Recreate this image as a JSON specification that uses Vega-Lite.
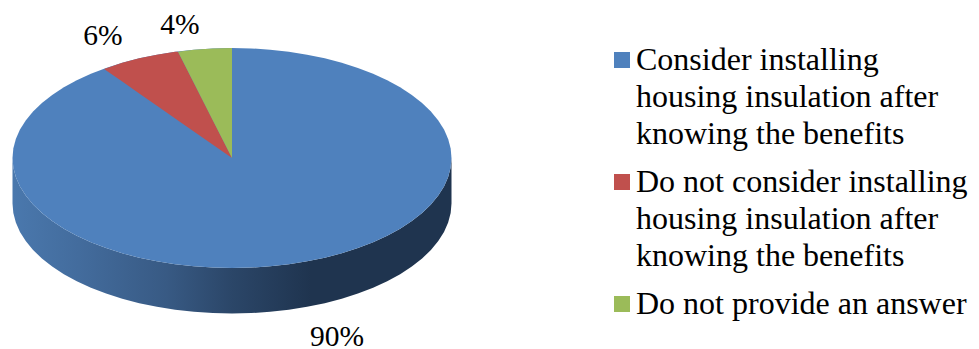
{
  "$schema": "https://vega.github.io/schema/vega-lite/v6.json",
  "width": 979,
  "height": 349,
  "autosize": "none",
  "padding": 0,
  "background": "white",
  "config": {"view": {"stroke": null}},
  "datasets": {
    "rim": [
      {"x": -1, "top": 0, "bottom": 0, "side": -0.4136},
      {"x": -0.9962, "top": 0.0872, "bottom": -0.0872, "side": -0.5008},
      {"x": -0.9848, "top": 0.1736, "bottom": -0.1736, "side": -0.5872},
      {"x": -0.9659, "top": 0.2588, "bottom": -0.2588, "side": -0.6724},
      {"x": -0.9397, "top": 0.342, "bottom": -0.342, "side": -0.7556},
      {"x": -0.9063, "top": 0.4226, "bottom": -0.4226, "side": -0.8362},
      {"x": -0.866, "top": 0.5, "bottom": -0.5, "side": -0.9136},
      {"x": -0.8192, "top": 0.5736, "bottom": -0.5736, "side": -0.9872},
      {"x": -0.766, "top": 0.6428, "bottom": -0.6428, "side": -1.0564},
      {"x": -0.7071, "top": 0.7071, "bottom": -0.7071, "side": -1.1207},
      {"x": -0.6428, "top": 0.766, "bottom": -0.766, "side": -1.1796},
      {"x": -0.5736, "top": 0.8192, "bottom": -0.8192, "side": -1.2328},
      {"x": -0.5, "top": 0.866, "bottom": -0.866, "side": -1.2796},
      {"x": -0.4226, "top": 0.9063, "bottom": -0.9063, "side": -1.3199},
      {"x": -0.342, "top": 0.9397, "bottom": -0.9397, "side": -1.3533},
      {"x": -0.2588, "top": 0.9659, "bottom": -0.9659, "side": -1.3795},
      {"x": -0.1736, "top": 0.9848, "bottom": -0.9848, "side": -1.3984},
      {"x": -0.0872, "top": 0.9962, "bottom": -0.9962, "side": -1.4098},
      {"x": 0, "top": 1, "bottom": -1, "side": -1.4136},
      {"x": 0.0872, "top": 0.9962, "bottom": -0.9962, "side": -1.4098},
      {"x": 0.1736, "top": 0.9848, "bottom": -0.9848, "side": -1.3984},
      {"x": 0.2588, "top": 0.9659, "bottom": -0.9659, "side": -1.3795},
      {"x": 0.342, "top": 0.9397, "bottom": -0.9397, "side": -1.3533},
      {"x": 0.4226, "top": 0.9063, "bottom": -0.9063, "side": -1.3199},
      {"x": 0.5, "top": 0.866, "bottom": -0.866, "side": -1.2796},
      {"x": 0.5736, "top": 0.8192, "bottom": -0.8192, "side": -1.2328},
      {"x": 0.6428, "top": 0.766, "bottom": -0.766, "side": -1.1796},
      {"x": 0.7071, "top": 0.7071, "bottom": -0.7071, "side": -1.1207},
      {"x": 0.766, "top": 0.6428, "bottom": -0.6428, "side": -1.0564},
      {"x": 0.8192, "top": 0.5736, "bottom": -0.5736, "side": -0.9872},
      {"x": 0.866, "top": 0.5, "bottom": -0.5, "side": -0.9136},
      {"x": 0.9063, "top": 0.4226, "bottom": -0.4226, "side": -0.8362},
      {"x": 0.9397, "top": 0.342, "bottom": -0.342, "side": -0.7556},
      {"x": 0.9659, "top": 0.2588, "bottom": -0.2588, "side": -0.6724},
      {"x": 0.9848, "top": 0.1736, "bottom": -0.1736, "side": -0.5872},
      {"x": 0.9962, "top": 0.0872, "bottom": -0.0872, "side": -0.5008},
      {"x": 1, "top": 0, "bottom": 0, "side": -0.4136}
    ],
    "wedges": [
      {"answer": "Do not consider installing housing insulation after knowing the benefits", "x": -0.583, "top": 0.81, "low": 0.81},
      {"answer": "Do not consider installing housing insulation after knowing the benefits", "x": -0.5, "top": 0.866, "low": 0.6945},
      {"answer": "Do not consider installing housing insulation after knowing the benefits", "x": -0.4226, "top": 0.9063, "low": 0.587},
      {"answer": "Do not consider installing housing insulation after knowing the benefits", "x": -0.342, "top": 0.9397, "low": 0.475},
      {"answer": "Do not consider installing housing insulation after knowing the benefits", "x": -0.2588, "top": 0.9659, "low": 0.3595},
      {"answer": "Do not consider installing housing insulation after knowing the benefits", "x": -0.246, "top": 0.965, "low": 0.3417},
      {"answer": "Do not consider installing housing insulation after knowing the benefits", "x": 0, "top": 0, "low": 0},
      {"answer": "Do not provide an answer", "x": -0.246, "top": 0.965, "low": 0.965},
      {"answer": "Do not provide an answer", "x": -0.1736, "top": 0.9848, "low": 0.681},
      {"answer": "Do not provide an answer", "x": -0.0872, "top": 0.9962, "low": 0.342},
      {"answer": "Do not provide an answer", "x": 0, "top": 1, "low": 0}
    ],
    "shares": [
      {"share": 0.9, "labelX": 0.478, "labelY": -1.705},
      {"share": 0.06, "labelX": -0.588, "labelY": 1.03},
      {"share": 0.04, "labelX": -0.237, "labelY": 1.125}
    ]
  },
  "data": {"name": "rim"},
  "encoding": {
    "x": {
      "field": "x",
      "type": "quantitative",
      "axis": null,
      "scale": {"domain": [-1.05695, 3.40319], "nice": false, "zero": false}
    }
  },
  "layer": [
    {
      "mark": {
        "type": "area",
        "opacity": 1,
        "color": {
          "gradient": "linear",
          "x1": 0, "y1": 0, "x2": 1, "y2": 0,
          "stops": [
            {"offset": 0, "color": "#4a78ad"},
            {"offset": 0.15, "color": "#436c9d"},
            {"offset": 0.35, "color": "#385a84"},
            {"offset": 0.5, "color": "#2b4668"},
            {"offset": 0.68, "color": "#1f344f"},
            {"offset": 1, "color": "#1f344f"}
          ]
        }
      },
      "encoding": {
        "y": {
          "field": "bottom",
          "type": "quantitative",
          "axis": null,
          "stack": null,
          "scale": {"domain": [-1.73636, 1.43636], "nice": false, "zero": false}
        },
        "y2": {"field": "side"}
      }
    },
    {
      "mark": {"type": "area", "opacity": 1},
      "encoding": {
        "y": {"field": "top", "type": "quantitative", "stack": null},
        "y2": {"field": "bottom"},
        "color": {
          "datum": "Consider installing housing insulation after knowing the benefits",
          "type": "nominal",
          "title": null,
          "scale": {
            "domain": [
              "Consider installing housing insulation after knowing the benefits",
              "Do not consider installing housing insulation after knowing the benefits",
              "Do not provide an answer"
            ],
            "range": ["#4f81bd", "#c0504d", "#9bbb59"]
          },
          "legend": {
            "title": null,
            "orient": "none",
            "legendX": 606,
            "legendY": 44,
            "padding": 0,
            "symbolType": "square",
            "symbolSize": 256,
            "symbolStrokeWidth": 0,
            "symbolOpacity": 1,
            "labelFont": "Liberation Serif",
            "labelFontSize": 32,
            "labelColor": "#000000",
            "labelOffset": -2,
            "labelLimit": 400,
            "rowPadding": 16,
            "labelExpr": "datum.label == 'Do not provide an answer' ? datum.label : [slice(datum.label, 0, indexof(datum.label, ' housing')), 'housing insulation after', 'knowing the benefits']",
            "encoding": {"labels": {"lineHeight": {"value": 37}}}
          }
        }
      }
    },
    {
      "data": {"name": "wedges"},
      "mark": {"type": "area", "opacity": 1},
      "encoding": {
        "y": {"field": "top", "type": "quantitative", "stack": null},
        "y2": {"field": "low"},
        "color": {"field": "answer", "type": "nominal", "title": null}
      }
    },
    {
      "data": {"name": "shares"},
      "mark": {
        "type": "text",
        "font": "Liberation Serif",
        "fontSize": 29.5,
        "color": "#000000",
        "baseline": "alphabetic",
        "align": "center"
      },
      "encoding": {
        "x": {"field": "labelX", "type": "quantitative"},
        "y": {"field": "labelY", "type": "quantitative"},
        "text": {"field": "share", "type": "quantitative", "format": ".0%"}
      }
    }
  ]
}
